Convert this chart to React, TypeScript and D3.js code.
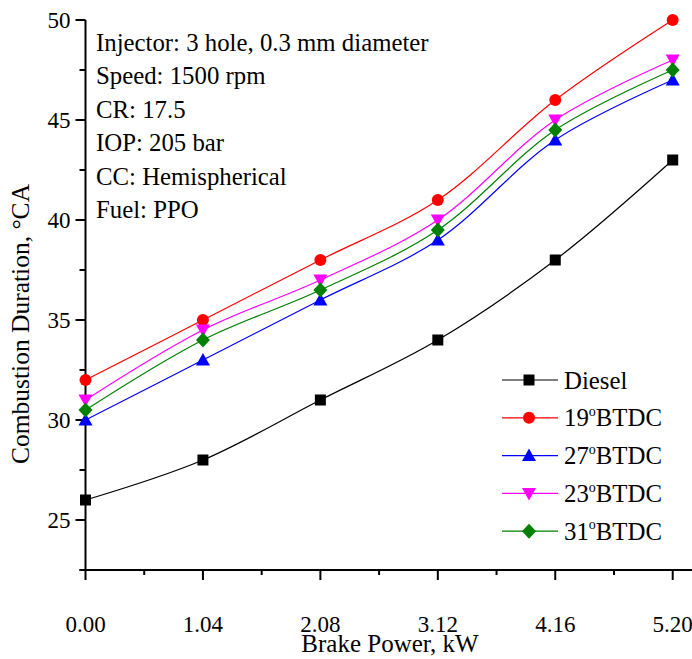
import React from "react";
import * as d3 from "d3";

const xValues = [0, 1.04, 2.08, 3.12, 4.16, 5.2];
const xTickLabels = ["0.00", "1.04", "2.08", "3.12", "4.16", "5.20"];
const yTicks = [25, 30, 35, 40, 45, 50];

const diesel = [26, 28, 31, 34, 38, 43];
const btdc19 = [32, 35, 38, 41, 46, 50];
const btdc27 = [30, 33, 36, 39, 44, 47];
const btdc23 = [31, 34.5, 37, 40, 45, 48];
const btdc31 = [30.5, 34, 36.5, 39.5, 44.5, 47.5];

const seriesNames = ["Diesel", "19", "27", "23", "31"];
const annotations = [
  "Injector: 3 hole, 0.3 mm diameter",
  "Speed: 1500 rpm",
  "CR: 17.5",
  "IOP: 205 bar",
  "CC: Hemispherical",
  "Fuel: PPO",
];

const FONT = "'Liberation Serif', 'Times New Roman', serif";

type Series = { name: string; values: number[]; color: string; marker: string };

const series: Series[] = [
  { name: seriesNames[0], values: diesel, color: "#000000", marker: "square" },
  { name: seriesNames[1], values: btdc19, color: "#ff0000", marker: "circle" },
  { name: seriesNames[2], values: btdc27, color: "#0000ff", marker: "triangleUp" },
  { name: seriesNames[3], values: btdc23, color: "#ff00ff", marker: "triangleDown" },
  { name: seriesNames[4], values: btdc31, color: "#008000", marker: "diamond" },
];

function Marker({ type, x, y, color }: { type: string; x: number; y: number; color: string }) {
  if (type === "square") return <rect x={x - 5.5} y={y - 5.5} width={11} height={11} fill={color} />;
  if (type === "circle") return <circle cx={x} cy={y} r={6} fill={color} />;
  if (type === "triangleUp")
    return <path d={`M${x},${y - 7} L${x + 7},${y + 5.5} L${x - 7},${y + 5.5} Z`} fill={color} />;
  if (type === "triangleDown")
    return <path d={`M${x},${y + 7} L${x + 7},${y - 5.5} L${x - 7},${y - 5.5} Z`} fill={color} />;
  return <path d={`M${x},${y - 7.5} L${x + 7},${y} L${x},${y + 7.5} L${x - 7},${y} Z`} fill={color} />;
}

export default function App() {
  const W = 692, H = 659;
  const x = d3.scaleLinear().domain([0, 5.2]).range([85.5, 672.7]);
  const y = d3.scaleLinear().domain([22.5, 50]).range([570, 20]);
  const line = d3
    .line<number>()
    .x((_, i) => x(xValues[i]))
    .y((d) => y(d))
    .curve(d3.curveCatmullRom.alpha(0.5));

  const xMinor = d3.range(0.52, 5.3, 1.04);
  const yMinor = [22.5, 27.5, 32.5, 37.5, 42.5, 47.5];
  const x0 = x(0);
  const yb = y(22.5);

  const legendX = 502, legendY0 = 380, legendDy = 37.8;

  return (
    <svg width={W} height={H} style={{ position: "absolute", left: 0, top: 0, background: "#fff" }} fontFamily={FONT}>
      {/* axes */}
      <line x1={x0} x2={x0} y1={y(50)} y2={yb} stroke="#000" strokeWidth={2} />
      <line x1={x0 - 6} x2={W} y1={yb} y2={yb} stroke="#000" strokeWidth={2} />
      {yTicks.map((t) => (
        <g key={"yt" + t}>
          <line x1={x0 - 10} x2={x0} y1={y(t)} y2={y(t)} stroke="#000" strokeWidth={2} />
          <text x={x0 - 15} y={y(t)} dy="0.35em" textAnchor="end" fontSize={23}>
            {t}
          </text>
        </g>
      ))}
      {yMinor.map((t) => (
        <line key={"ym" + t} x1={x0 - 6} x2={x0} y1={y(t)} y2={y(t)} stroke="#000" strokeWidth={2} />
      ))}
      {xValues.map((v, i) => (
        <g key={"xt" + i}>
          <line x1={x(v)} x2={x(v)} y1={yb} y2={yb + 10} stroke="#000" strokeWidth={2} />
          <text x={x(v)} y={623.5} dy="0.35em" textAnchor="middle" fontSize={23}>
            {xTickLabels[i]}
          </text>
        </g>
      ))}
      {xMinor.map((v, i) => (
        <line key={"xm" + i} x1={x(v)} x2={x(v)} y1={yb} y2={yb + 5} stroke="#000" strokeWidth={2} />
      ))}
      <text x={390} y={652} textAnchor="middle" fontSize={25}>
        Brake Power, kW
      </text>
      <text transform={`translate(29,324) rotate(-90)`} textAnchor="middle" fontSize={25.5}>
        Combustion Duration, °CA
      </text>

      {/* annotations */}
      {annotations.map((a, i) => (
        <text key={"an" + i} x={96} y={42 + i * 33.5} dy="0.35em" fontSize={24.8}>
          {a}
        </text>
      ))}

      {/* series */}
      {series.map((s) => (
        <g key={s.name}>
          <path d={line(s.values) || ""} fill="none" stroke={s.color} strokeWidth={1.2} />
          {s.values.map((v, i) => (
            <Marker key={i} type={s.marker} x={x(xValues[i])} y={y(v)} color={s.color} />
          ))}
        </g>
      ))}

      {/* legend */}
      {series.map((s, i) => {
        const ly = legendY0 + i * legendDy;
        return (
          <g key={"lg" + s.name}>
            <line x1={legendX} x2={legendX + 56} y1={ly} y2={ly} stroke={s.color} strokeWidth={1.2} />
            <Marker type={s.marker} x={legendX + 27} y={ly} color={s.color} />
            <text x={legendX + 62} y={ly} dy="0.35em" fontSize={24.8}>
              {i === 0 ? (
                s.name
              ) : (
                <>
                  {s.name}
                  <tspan fontSize={14} dy="-0.75em">o</tspan>
                  <tspan dy="0.42em">BTDC</tspan>
                </>
              )}
            </text>
          </g>
        );
      })}
    </svg>
  );
}
